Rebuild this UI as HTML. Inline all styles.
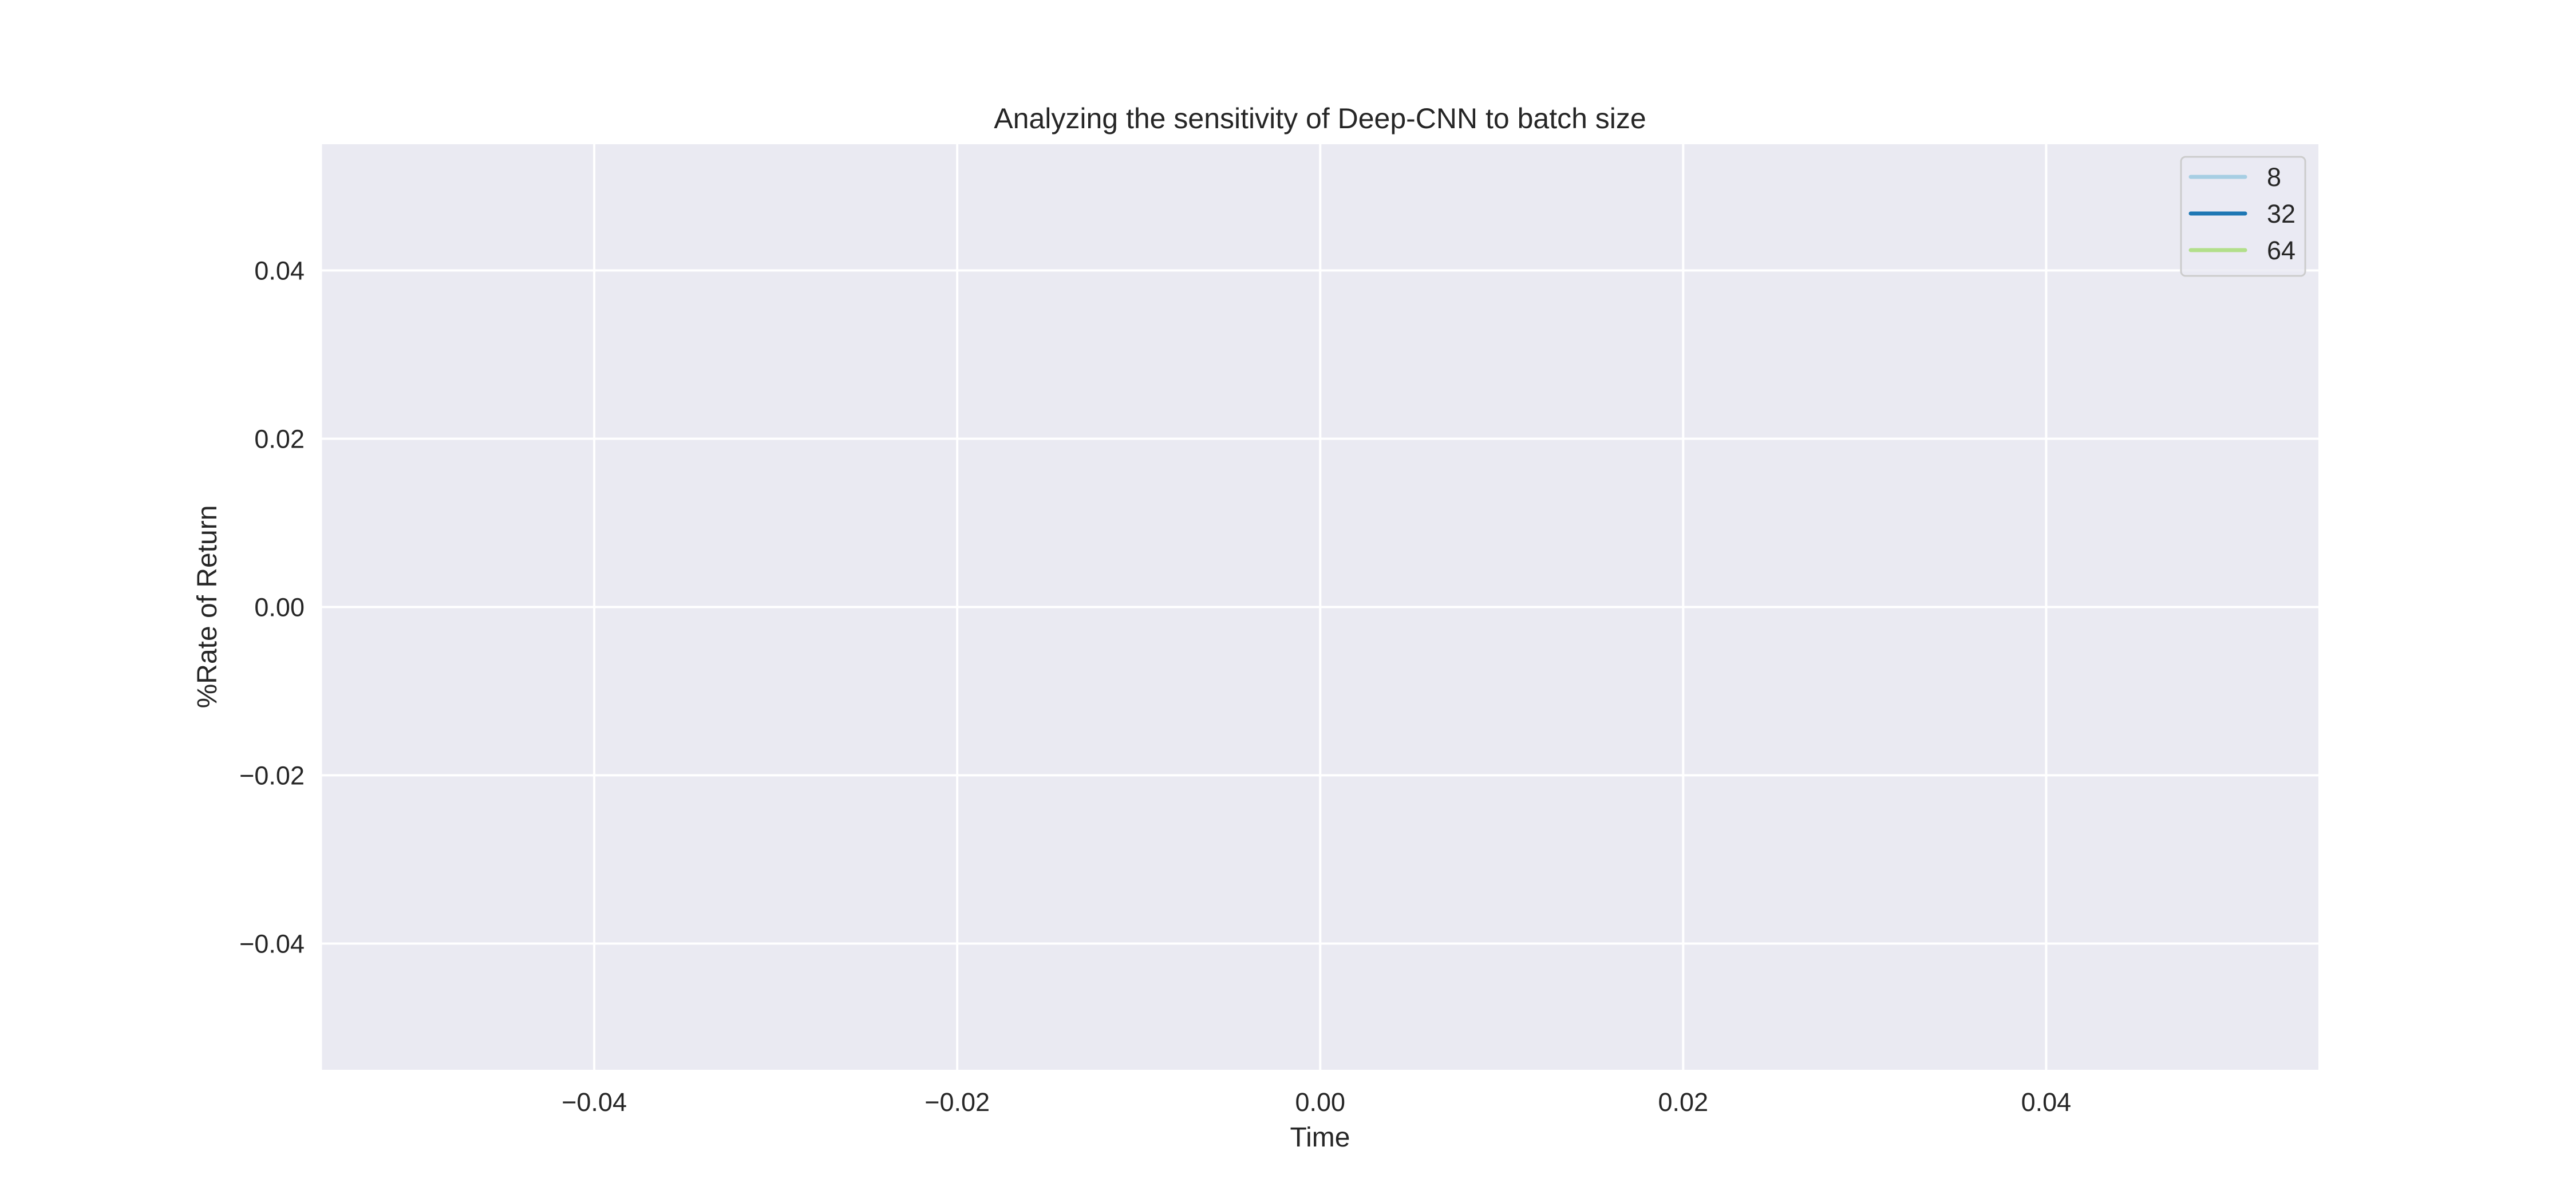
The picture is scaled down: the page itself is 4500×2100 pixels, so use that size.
<!DOCTYPE html>
<html><head><meta charset="utf-8"><style>
html,body{margin:0;padding:0;background:#fff;}
svg{display:block;font-family:"Liberation Sans",sans-serif;fill:#262626;}
</style></head><body>
<svg id="chart" width="4500" height="2100" viewBox="0 0 4500 2100">
<rect x="0" y="0" width="4500" height="2100" fill="#fff"/>
<rect id="plot-bg" x="562.5" y="252" width="3487.5" height="1617" fill="#eaeaf2"/>
<g id="grid"></g>
<g id="series"></g>
<g id="ticks"></g>
<text x="2306" y="224" font-size="50" text-anchor="middle">Analyzing the sensitivity of Deep-CNN to batch size</text>
<text x="2306" y="2003" font-size="48" text-anchor="middle">Time</text>
<text transform="translate(378,1060) rotate(-90)" font-size="48" text-anchor="middle">%Rate of Return</text>
<g id="legend">
<rect x="3810" y="274" width="217" height="208" rx="8" fill="#eaeaf2" fill-opacity="0.8" stroke="#cccccc" stroke-width="3"/>
</g>
</svg>
<script>
const xTicks = [-0.04, -0.02, 0.00, 0.02, 0.04];
const yTicks = [-0.04, -0.02, 0.00, 0.02, 0.04];
const seriesNames = ["8", "32", "64"];
const seriesColors = ["#a6cee3", "#1f78b4", "#b2df8a"];
const series8 = [];
const series32 = [];
const series64 = [];
const timeValues = [];

const X0 = 562.5, X1 = 4050, Y0 = 1869, Y1 = 252;
const xMin = -0.055, xMax = 0.055, yMin = -0.055, yMax = 0.055;
const sx = v => X0 + (v - xMin) / (xMax - xMin) * (X1 - X0);
const sy = v => Y0 - (v - yMin) / (yMax - yMin) * (Y0 - Y1);
const NS = "http://www.w3.org/2000/svg";
const grid = document.getElementById('grid');
const ticks = document.getElementById('ticks');
const fmt = v => (v < 0 ? "\u2212" : "") + Math.abs(v).toFixed(2);

xTicks.forEach(v => {
  const l = document.createElementNS(NS, 'line');
  l.setAttribute('x1', sx(v)); l.setAttribute('x2', sx(v));
  l.setAttribute('y1', Y1); l.setAttribute('y2', Y0);
  l.setAttribute('stroke', '#fff'); l.setAttribute('stroke-width', '4');
  
  
  grid.appendChild(l);
  const t = document.createElementNS(NS, 'text');
  t.setAttribute('x', sx(v)); t.setAttribute('y', 1941);
  t.setAttribute('font-size', '45'); t.setAttribute('text-anchor', 'middle');
  t.textContent = fmt(v);
  
  
  ticks.appendChild(t);
});
yTicks.forEach(v => {
  const l = document.createElementNS(NS, 'line');
  l.setAttribute('x1', X0); l.setAttribute('x2', X1);
  l.setAttribute('y1', sy(v)); l.setAttribute('y2', sy(v));
  l.setAttribute('stroke', '#fff'); l.setAttribute('stroke-width', '4');
  
  
  grid.appendChild(l);
  const t = document.createElementNS(NS, 'text');
  t.setAttribute('x', 532); t.setAttribute('y', sy(v) + 16);
  t.setAttribute('font-size', '45'); t.setAttribute('text-anchor', 'end');
  t.textContent = fmt(v);
  
  
  ticks.appendChild(t);
});

const allSeries = [series8, series32, series64];
const sg = document.getElementById('series');
allSeries.forEach((s, i) => {
  if (!s.length) return;
  const p = document.createElementNS(NS, 'path');
  p.setAttribute('d', s.map((v, j) => (j ? 'L' : 'M') + sx(timeValues[j]) + ' ' + sy(v)).join(' '));
  p.setAttribute('fill', 'none'); p.setAttribute('stroke', seriesColors[i]); p.setAttribute('stroke-width', '7');
  
  
  sg.appendChild(p);
});

const lg = document.getElementById('legend');
seriesNames.forEach((n, i) => {
  const y = 309 + i * 64;
  const l = document.createElementNS(NS, 'line');
  l.setAttribute('x1', 3827); l.setAttribute('x2', 3922);
  l.setAttribute('y1', y); l.setAttribute('y2', y);
  l.setAttribute('stroke', seriesColors[i]); l.setAttribute('stroke-width', '7');
  l.setAttribute('stroke-linecap', 'round');
  
  
  lg.appendChild(l);
  const t = document.createElementNS(NS, 'text');
  t.setAttribute('x', 3960); t.setAttribute('y', y + 16);
  t.setAttribute('font-size', '45');
  t.textContent = n;
  
  
  lg.appendChild(t);
});
</script>
</body></html>
